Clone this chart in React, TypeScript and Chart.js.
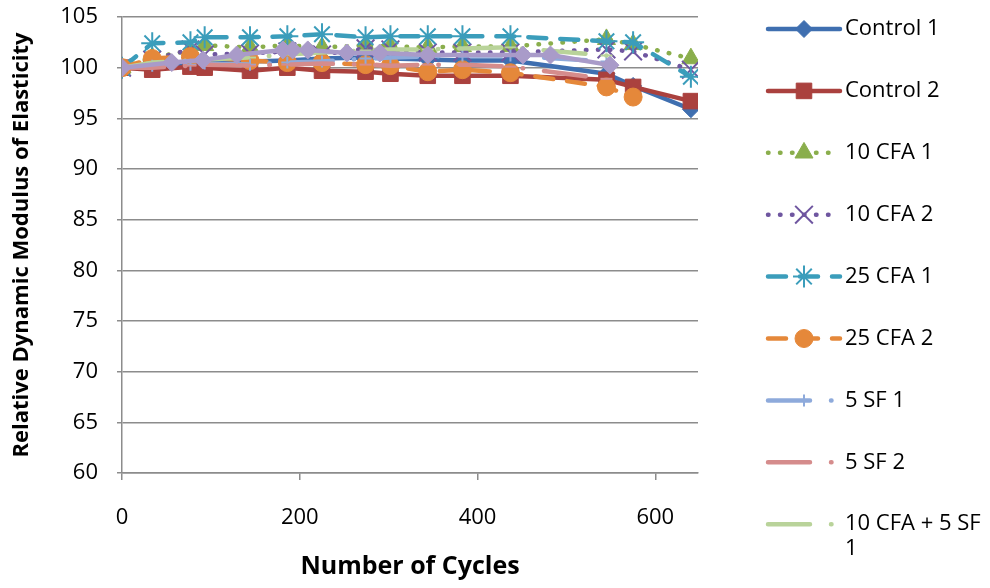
import React, { useEffect, useRef } from 'react';
import { Chart, registerables } from 'chart.js';
import { drawPoint } from 'chart.js/helpers';

Chart.register(...registerables);

// ---------- data ----------
const seriesLabels = [
  'Control 1', 'Control 2', '10 CFA 1', '10 CFA 2', '25 CFA 1',
  '25 CFA 2', '5 SF 1', '5 SF 2', '10 CFA + 5 SF 1', '10 CFA + 5 SF 2',
];
const legendLines = [
  ['Control 1'], ['Control 2'], ['10 CFA 1'], ['10 CFA 2'], ['25 CFA 1'],
  ['25 CFA 2'], ['5 SF 1'], ['5 SF 2'], ['10 CFA + 5 SF', '1'],
];

const cycles = [0, 34, 77, 93, 144, 186, 225, 274, 302, 344, 383, 437, 545, 575, 640];
const control1 = [100, 100.2, 100.4, 100.5, 100.6, 100.7, 100.9, 101.0, 100.9, 100.8, 100.7, 100.7, 99.4, 98.2, 95.9];
const control2 = [100, 99.8, 100.1, 100.0, 99.7, 100.0, 99.7, 99.6, 99.4, 99.2, 99.2, 99.2, 98.8, 98.1, 96.7];
const cfa10a = [100, 101.0, 101.7, 102.2, 102.0, 102.2, 102.0, 102.2, 102.1, 102.0, 102.1, 102.1, 102.8, 102.3, 100.9];
const cfa10b = [100, 100.8, 101.8, 101.3, 101.4, 101.6, 101.3, 101.9, 101.8, 101.5, 101.5, 101.5, 101.8, 101.6, 99.8];
const cfa25a = [100, 102.4, 102.5, 103.0, 103.0, 103.1, 103.3, 103.0, 103.1, 103.1, 103.1, 103.1, 102.6, 102.5, 99.1];
const cfa25b = [100, 100.9, 101.1, null, 100.7, 100.5, 100.5, 100.3, 100.2, 99.6, 99.8, 99.5, 98.1, 97.1, null];
const sf5a = [100, 100.2, 100.3, 100.4, 100.3, 100.5, 100.6, 100.9, 101.0, 101.1, 101.2, 101.2, 100.6, null, null];
const sf5b = [100, 100.0, 100.2, 100.3, 100.2, 100.3, 100.4, 100.3, 100.2, 100.3, 100.3, 100.1, 98.9, null, null];
const blend1 = [100, 100.5, 100.7, 100.8, 101.0, 101.3, 101.5, 101.7, 101.8, 101.8, 101.9, 102.0, 101.2, null, null];
const cyclesBlend2 = [0, 56, 91, 129, 181, 192, 209, 253, 290, 344, 451, 482, 549];
const blend2 = [100, 100.5, 100.75, 101.25, 101.75, 101.75, 101.75, 101.45, 101.45, 101.25, 101.25, 101.25, 100.25];

const xTicks = [0, 200, 400, 600];
const yMin = 60;
const yMax = 105;
const yStep = 5;
const xMax = 648;

// ---------- styles ----------
const FONT = 'Open Sans';
const GRID = '#8C8C8C';
const DOT = [0.5, 11.5];
const DASH = [18, 14];
const LDD = [42, 21, 0.5, 21];

const styles = [
  { color: '#3F6FB0', dash: [], point: 'rectRot', r: 8.5, pbw: 1 },
  { color: '#AA413E', dash: [], point: 'rect', r: 11, pbw: 1 },
  { color: '#8AAE4C', dash: DOT, point: 'triangle', r: 10.4, pbw: 1 },
  { color: '#6F56A0', dash: DOT, point: 'crossRot', r: 12.5, pbw: 2 },
  { color: '#3B9DBB', dash: DASH, point: 'star', r: 11, pbw: 2 },
  { color: '#E5883A', dash: DASH, point: 'circle', r: 9, pbw: 1 },
  { color: '#8EAADB', dash: LDD, point: 'cross', r: 6, pbw: 2 },
  { color: '#D58C8C', dash: LDD, point: 'line', r: 6, pbw: 2 },
  { color: '#B9D39A', dash: LDD, point: 'line', r: 6, pbw: 2 },
  { color: '#A99BC9', dash: [], point: 'rectRot', r: 9, pbw: 1 },
];

function toPoints(xs: number[], ys: (number | null)[]) {
  return xs.map((x, i) => ({ x, y: ys[i] }));
}

const seriesData = [
  toPoints(cycles, control1),
  toPoints(cycles, control2),
  toPoints(cycles, cfa10a),
  toPoints(cycles, cfa10b),
  toPoints(cycles, cfa25a),
  toPoints(cycles, cfa25b),
  toPoints(cycles, sf5a),
  toPoints(cycles, sf5b),
  toPoints(cycles, blend1),
  toPoints(cyclesBlend2, blend2),
];

const LEG_X0 = 768;
const LEG_X1 = 840;
const LEG_TEXT_X = 845;
const LEG_Y0 = 29;
const LEG_GAP = 61.9;

const legendPlugin = {
  id: 'excelLegend',
  afterDraw(chart: any) {
    const ctx = chart.ctx as CanvasRenderingContext2D;
    legendLines.forEach((lines, i) => {
      const st = styles[i];
      const y = LEG_Y0 + i * LEG_GAP;
      ctx.save();
      ctx.strokeStyle = st.color;
      ctx.lineWidth = 4.5;
      ctx.lineCap = 'round';
      ctx.setLineDash(st.dash);
      ctx.beginPath();
      ctx.moveTo(LEG_X0, y);
      ctx.lineTo(LEG_X1, y);
      ctx.stroke();
      ctx.restore();
      ctx.save();
      ctx.setLineDash([]);
      ctx.fillStyle = st.color;
      ctx.strokeStyle = st.color;
      ctx.lineWidth = st.pbw;
      drawPoint(ctx, { pointStyle: st.point, radius: st.r, rotation: 0, borderWidth: st.pbw } as any, (LEG_X0 + LEG_X1) / 2, y);
      ctx.restore();
      ctx.save();
      ctx.fillStyle = '#000';
      ctx.font = `22px "${FONT}"`;
      ctx.textBaseline = 'middle';
      ctx.textAlign = 'left';
      lines.forEach((t, k) => ctx.fillText(t, LEG_TEXT_X, y + k * 25));
      ctx.restore();
    });
  },
};

export default function App() {
  const ref = useRef<HTMLCanvasElement>(null);
  useEffect(() => {
    document.body.style.margin = '0';
    const canvas = ref.current!;
    const datasets = seriesData.map((data, i) => {
      const st = styles[i];
      return {
        label: seriesLabels[i],
        data,
        showLine: true,
        spanGaps: true,
        borderColor: st.color,
        backgroundColor: st.color,
        borderWidth: 4.5,
        borderDash: st.dash,
        borderCapStyle: 'round' as const,
        borderJoinStyle: 'round' as const,
        pointStyle: st.point,
        pointRadius: st.r,
        pointBackgroundColor: st.color,
        pointBorderColor: st.color,
        pointBorderWidth: st.pbw,
        tension: 0,
        order: -i,
      };
    });
    const chart = new Chart(canvas, {
      type: 'scatter',
      data: { datasets: datasets as any },
      options: {
        animation: false,
        responsive: false,
        devicePixelRatio: 1,
        layout: { padding: { top: 17, right: 292, bottom: 0, left: 0 } },
        plugins: { legend: { display: false }, tooltip: { enabled: false } },
        scales: {
          x: {
            type: 'linear',
            min: 0,
            max: xMax,
            afterBuildTicks: (axis: any) => {
              axis.ticks = xTicks.map((v) => ({ value: v }));
            },
            afterFit: (s: any) => {
              s.height = 115;
              s.paddingLeft = 0;
              s.paddingRight = 0;
            },
            ticks: { color: '#000', padding: 25, font: { family: FONT, size: 22 } },
            grid: { drawOnChartArea: false, drawTicks: true, tickLength: 7, color: GRID, lineWidth: 1.5 },
            border: { display: true, color: GRID, width: 1.5 },
            title: {
              display: true,
              text: 'Number of Cycles',
              color: '#000',
              font: { family: FONT, size: 25, weight: 'bold' },
              padding: { top: 0, bottom: 6 },
            },
          },
          y: {
            type: 'linear',
            min: yMin,
            max: yMax,
            afterFit: (s: any) => {
              s.width = 122;
              s.paddingTop = 0;
              s.paddingBottom = 0;
            },
            ticks: { stepSize: yStep, color: '#000', padding: 19, font: { family: FONT, size: 22 } },
            grid: { drawTicks: true, tickLength: 5, color: GRID, lineWidth: 1.5 },
            border: { display: true, color: GRID, width: 1.5 },
            title: {
              display: true,
              text: 'Relative Dynamic Modulus of Elasticity',
              color: '#000',
              font: { family: FONT, size: 22, weight: 'bold' },
              padding: { top: 9, bottom: 0 },
            },
          },
        },
      },
      plugins: [legendPlugin],
    });
    return () => chart.destroy();
  }, []);
  return (
    <div style={{ width: 990, height: 588, background: '#fff' }}>
      <canvas ref={ref} width={990} height={588} style={{ display: 'block' }} />
    </div>
  );
}
